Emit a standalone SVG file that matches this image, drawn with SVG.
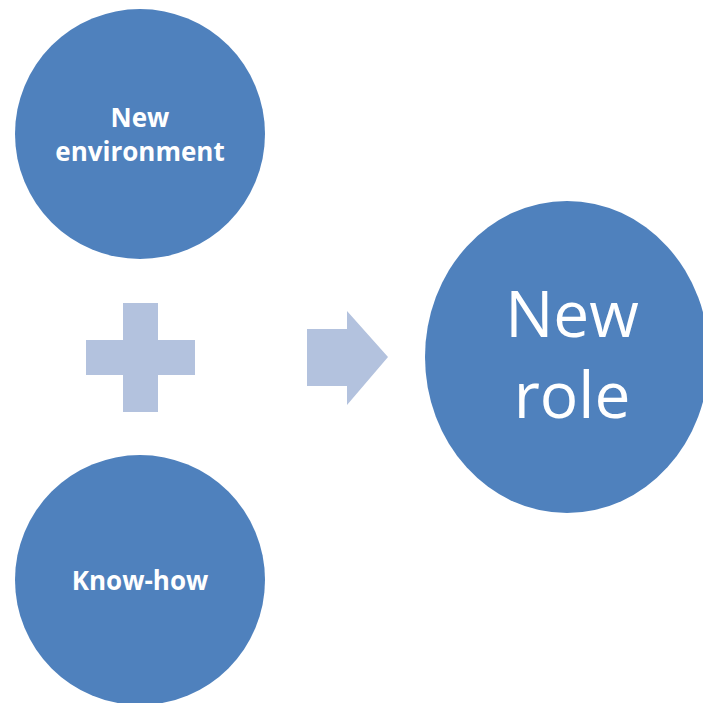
<svg xmlns="http://www.w3.org/2000/svg" width="703" height="703" viewBox="0 0 703 703">
<style>
.c{fill:#4F81BD}
.s{fill:#B3C2DE}
.t{fill:#fff;font-family:"Open Sans","Liberation Sans",sans-serif;text-anchor:middle}
.b{font-weight:bold;font-size:26px}
.l{font-size:64px}
</style>
<rect width="703" height="703" fill="#fff"/>
<g id="new-environment">
<circle class="c" cx="140" cy="134" r="125"/>
<text class="t b" x="140" y="127">New</text>
<text class="t b" x="140" y="161">environment</text>
</g>
<g id="know-how">
<circle class="c" cx="140" cy="580" r="125"/>
<text class="t b" x="140" y="590">Know-how</text>
</g>
<g id="new-role">
<ellipse class="c" cx="567" cy="357" rx="142" ry="156"/>
<text class="t l" x="572" y="337">New</text>
<text class="t l" x="572" y="418">role</text>
</g>
<g id="connectors">
<path class="s" d="M123 303H158V340H195V375H158V412H123V375H86V340H123Z"/>
<path class="s" d="M307 329H347V311L388 357L347 405V386H307Z"/>
</g>
</svg>
